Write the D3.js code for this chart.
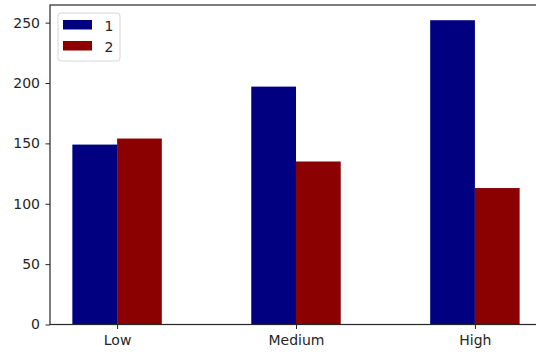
<!DOCTYPE html>
<html>
<head>
<meta charset="utf-8">
<script src="https://cdn.jsdelivr.net/npm/d3@7"></script>
<style>
  html, body { margin: 0; padding: 0; background: #fff; }
  svg { display: block; }
  text { font-family: "DejaVu Sans", sans-serif; fill: #262626; }
</style>
</head>
<body>
<svg id="chart" width="536" height="354"></svg>
<script>
// Grouped bar chart: two series across three levels
const categories = ["Low", "Medium", "High"];
const seriesNames = ["1", "2"];
const series1 = [149, 197, 252];
const series2 = [154, 135, 113];
const yTicks = [0, 50, 100, 150, 200, 250];
const colors = ["#000080", "#8b0000"];

const svg = d3.select("#chart");
const plot = { left: 50, right: 542, top: 5, bottom: 324.5 };

// Category positions on a linear index scale (bars 0.5 wide per group)
const x = d3.scaleLinear().domain([-0.375, 2.375]).range([plot.left, plot.right]);
const yMax = d3.max([...series1, ...series2]) * 1.05;
const y = d3.scaleLinear().domain([0, yMax]).range([plot.bottom, plot.top]);

const barW = 0.25;
const allSeries = [series1, series2];

const g = svg.append("g");
allSeries.forEach((vals, si) => {
  g.selectAll(null)
    .data(vals)
    .enter()
    .append("rect")
    .attr("x", (d, i) => x(i - barW + si * barW))
    .attr("width", x(barW) - x(0))
    .attr("y", d => y(d))
    .attr("height", d => y(0) - y(d))
    .attr("fill", colors[si]);
});

// Axes
const fontSize = 14;
const yAxis = d3.axisLeft(y).tickValues(yTicks).tickSize(4.5).tickPadding(5.5);
const yg = svg.append("g").attr("transform", `translate(${plot.left},0)`).call(yAxis);
const xAxis = d3.axisBottom(x).tickValues(categories.map((c, i) => i))
  .tickFormat(i => categories[i]).tickSize(4.5).tickPadding(6.5);
const xg = svg.append("g").attr("transform", `translate(0,${plot.bottom})`).call(xAxis);
[yg, xg].forEach(a => {
  a.select(".domain").remove();
  a.selectAll("line").attr("stroke", "#262626").attr("stroke-width", 1);
  a.selectAll("text").style("font-size", fontSize + "px").attr("fill", "#262626");
});

// Frame (spines)
svg.append("rect")
  .attr("x", plot.left).attr("y", plot.top)
  .attr("width", plot.right - plot.left).attr("height", plot.bottom - plot.top)
  .attr("fill", "none").attr("stroke", "#262626").attr("stroke-width", 1.2);

// Legend
const leg = svg.append("g").attr("transform", "translate(58,13)");
leg.append("rect")
  .attr("width", 62).attr("height", 48).attr("rx", 3)
  .attr("fill", "#fff").attr("fill-opacity", 0.8)
  .attr("stroke", "#d6d6d6").attr("stroke-width", 1);
seriesNames.forEach((name, i) => {
  const row = leg.append("g").attr("transform", `translate(0,${7 + i * 21})`);
  row.append("rect").attr("x", 5).attr("y", 0).attr("width", 29).attr("height", 9.5)
    .attr("fill", colors[i]);
  row.append("text").attr("x", 46.5).attr("y", 10.5)
    .style("font-size", fontSize + "px").text(name);
});
</script>
</body>
</html>
